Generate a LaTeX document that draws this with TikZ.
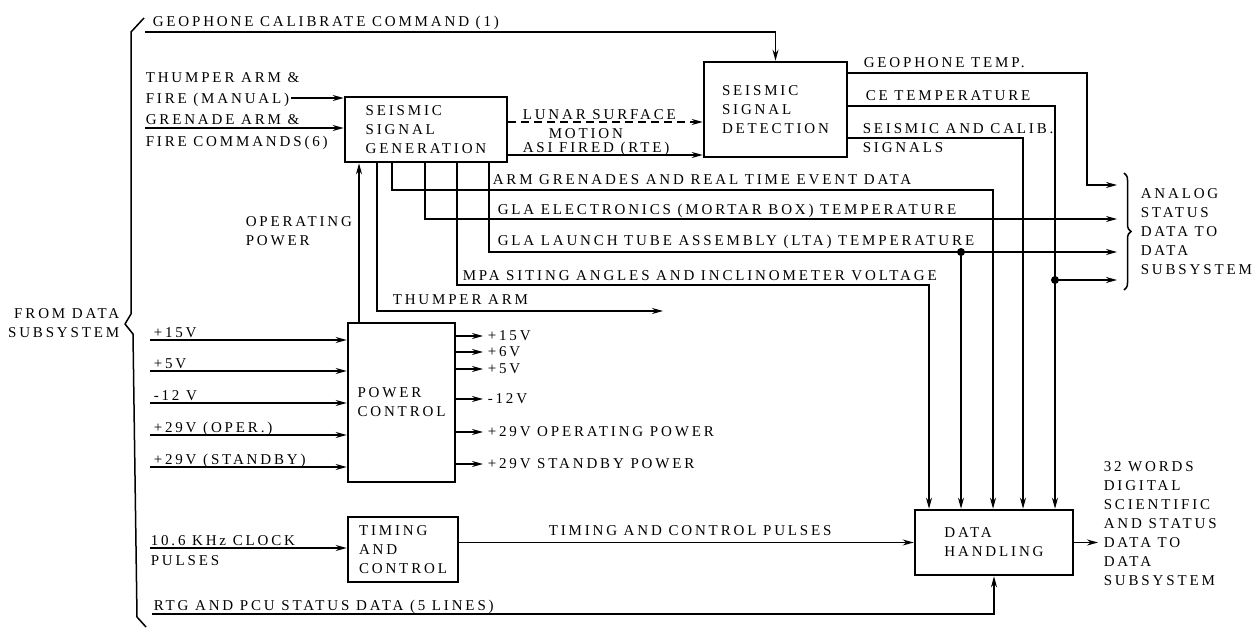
\documentclass[tikz,border=0pt]{standalone}
\usepackage{fontspec}
\setmainfont{Liberation Serif}[LetterSpace=19]
\usetikzlibrary{arrows.meta,decorations.pathreplacing}

\begin{document}
\begin{tikzpicture}[x=1pt,y=-1pt,line width=1.5pt,
    font=\fontsize{15}{19}\selectfont,
    >={Stealth[length=11pt,width=6pt]},
    blk/.style={draw,line width=2.6pt,align=left,inner sep=0pt},
    lbl/.style={inner sep=0pt,anchor=base west},
    txt/.style={inner sep=0pt,anchor=west,align=left},
    dot/.style={circle,fill,inner sep=0pt,minimum size=8pt}]
  \useasboundingbox (0,0) rectangle (1255,628);

  % blocks
  \node[blk,minimum width=162pt,minimum height=65pt] (ssg) at (426,129.5)
       {SEISMIC\\SIGNAL\\GENERATION};
  \node[blk,minimum width=143pt,minimum height=95pt] (ssd) at (775.5,109.5)
       {SEISMIC\\SIGNAL\\DETECTION};
  \node[blk,minimum width=107pt,minimum height=159pt] (pc) at (401.5,402.5)
       {POWER\\CONTROL};
  \node[blk,minimum width=110pt,minimum height=65pt] (tc) at (403,549.5)
       {TIMING\\AND\\CONTROL};
  \node[blk,minimum width=158pt,minimum height=65pt] (dh) at (994,542.5)
       {DATA\\HANDLING};

  % left brace and commands
  \draw[line join=round] (144,18) -- (131,32) -- (131,314) -- (125,324)
       -- (133,334) -- (137,617) -- (146,627);
  \node[txt,anchor=east,align=right] (fromds) at (120,323.5) {FROM DATA\\SUBSYSTEM};
  \coordinate (calin) at (145,32);
  \draw[->] (calin) -| (ssd.north);
  \node[lbl] (call) at (152,27) {GEOPHONE CALIBRATE COMMAND (1)};
  \node[lbl] (thfl1) at (145,83) {THUMPER ARM \&};
  \node[lbl] (thfl2) at (145,104) {FIRE (MANUAL)};
  \coordinate (thfin) at (291,98);
  \draw[->] (thfin) -- (thfin -| ssg.west);
  \node[lbl] (grel1) at (145,125) {GRENADE ARM \&};
  \node[lbl] (grel2) at (145,147) {FIRE COMMANDS(6)};
  \coordinate (grein) at (145,128);
  \draw[->] (grein) -- (grein -| ssg.west);

  % generation to detection
  \draw[->,dash pattern=on 8pt off 5pt] (ssg.east |- 0,122) -- (ssd.west |- 0,122);
  \node[lbl] (lsml1) at (522,120) {LUNAR SURFACE};
  \node[lbl] (lsml2) at (548,139) {MOTION};
  \draw[->] (ssg.east |- 0,155) -- (ssd.west |- 0,155);
  \node[lbl] (asil) at (522,153) {ASI FIRED (RTE)};

  % detection outputs
  \coordinate (geoout) at (1117,185);
  \draw[->] (ssd.east |- 0,73) -| (1087,185) -- (geoout);
  \node[lbl] (geol) at (863,68) {GEOPHONE TEMP.};
  \draw[->] (ssd.east |- 0,106) -| (1055,0 |- dh.north);
  \node[lbl] (cel) at (865,101) {CE TEMPERATURE};
  \node[dot] (cedot) at (1055,280) {};
  \coordinate (ceout) at (1117,280);
  \draw[->] (cedot.center) -- (ceout);
  \draw[->] (ssd.east |- 0,138) -| (1023,0 |- dh.north);
  \node[lbl] (scl1) at (862,134) {SEISMIC AND CALIB.};
  \node[lbl] (scl2) at (862,153) {SIGNALS};

  % generation outputs
  \draw[->] (392,0 |- ssg.south) |- (993,190) -- (993,0 |- dh.north);
  \node[lbl] (arml) at (492,185) {ARM GRENADES AND REAL TIME EVENT DATA};
  \coordinate (glaout) at (1117,219);
  \draw[->] (425,0 |- ssg.south) |- (glaout);
  \node[lbl] (glal) at (497,215) {GLA ELECTRONICS (MORTAR BOX) TEMPERATURE};
  \coordinate (ltaout) at (1117,252);
  \draw[->] (489,0 |- ssg.south) |- (ltaout);
  \node[lbl] (ltal) at (497,246) {GLA LAUNCH TUBE ASSEMBLY (LTA) TEMPERATURE};
  \node[dot] (ltadot) at (961,252) {};
  \draw[->] (ltadot.center) -- (961,0 |- dh.north);
  \draw[->] (457,0 |- ssg.south) |- (929,285) -- (929,0 |- dh.north);
  \node[lbl] (mpal) at (462,280) {MPA SITING ANGLES AND INCLINOMETER VOLTAGE};
  \coordinate (thout) at (663,311);
  \draw[->] (377,0 |- ssg.south) |- (thout);
  \node[lbl] (thl) at (392,305) {THUMPER ARM};
  \draw[->] (pc.north -| 359,0) -- (ssg.south -| 359,0);
  \node[txt] (opl) at (245,231.5) {OPERATING\\POWER};

  % analog status brace
  \draw[decorate,decoration={brace,amplitude=7pt}] (1124,173) -- (1124,290);
  \node[txt] (anl) at (1140,232) {ANALOG\\STATUS\\DATA TO\\DATA\\SUBSYSTEM};

  % power control
  \foreach \y/\t [count=\i] in {340/{+15V},371/{+5V},403/{-12 V},
      435/{+29V (OPER.)},467/{+29V (STANDBY)}} {
    \coordinate (pin\i) at (150,\y);
    \draw[->] (pin\i) -- (pin\i -| pc.west);
    \node[lbl] (pinl\i) at (153,\y-3) {\t};
  }
  \foreach \y/\t [count=\i] in {336/{+15V},352/{+6V},369/{+5V},399/{-12V},
      432/{+29V OPERATING POWER},464/{+29V STANDBY POWER}} {
    \coordinate (pout\i) at (483,\y);
    \draw[->] (pout\i -| pc.east) -- (pout\i);
    \node[txt] (poutl\i) at ([xshift=4pt]pout\i) {\t};
  }

  % timing and data handling
  \coordinate (clkin) at (150,548);
  \draw[->] (clkin) -- (clkin -| tc.west);
  \node[lbl] (clkl1) at (150,545) {10.6 KHz CLOCK};
  \node[lbl] (clkl2) at (150,565) {PULSES};
  \draw[->] (tc.east |- dh.west) -- (dh.west);
  \node[lbl] (tcpl) at (548,535) {TIMING AND CONTROL PULSES};
  \coordinate (rtgin) at (152,614);
  \draw[->] (rtgin) -| (dh.south);
  \node[lbl] (rtgl) at (153,610) {RTG AND PCU STATUS DATA (5 LINES)};
  \coordinate (dhout) at (1098,542.5);
  \draw[->] (dh.east) -- (dhout);
  \node[txt] (dhl) at (1103,524)
       {32 WORDS\\DIGITAL\\SCIENTIFIC\\AND STATUS\\DATA TO\\DATA\\SUBSYSTEM};
\end{tikzpicture}
\end{document}
